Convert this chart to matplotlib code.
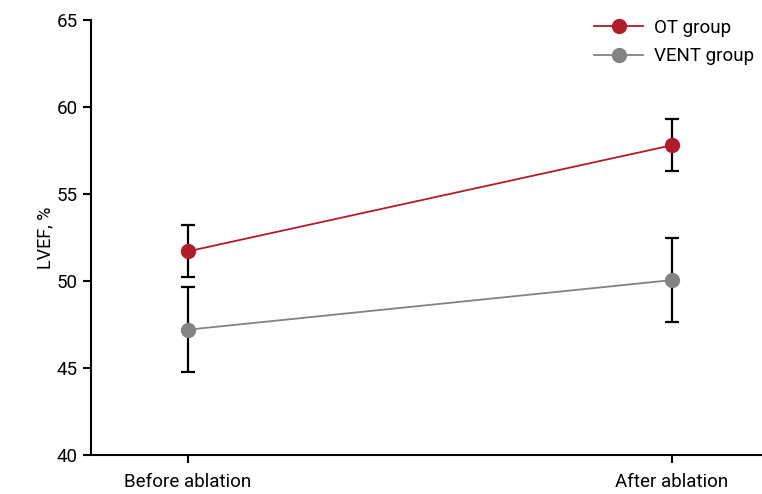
import matplotlib.pyplot as plt

stages = ["Before ablation", "After ablation"]
ot_mean = [51.7, 57.8]
ot_sd = [1.5, 1.5]
vent_mean = [47.2, 50.05]
vent_sd = [2.45, 2.4]

plt.rcParams['font.family'] = ['Roboto', 'DejaVu Sans']


def main():
    fig = plt.figure(figsize=(7.62, 4.94), dpi=100)
    ax = fig.add_axes([0.1194, 0.079, 0.8806, 0.8806])

    x = list(range(len(stages)))

    # error bars in black, drawn under the markers
    ax.errorbar(x, ot_mean, yerr=ot_sd, fmt='none', ecolor='black',
                elinewidth=1.6, capsize=5, capthick=1.6, zorder=2)
    ax.errorbar(x, vent_mean, yerr=vent_sd, fmt='none', ecolor='black',
                elinewidth=1.6, capsize=5, capthick=1.6, zorder=2)

    ax.plot(x, ot_mean, color='#b01c2a', lw=1.3, marker='o', ms=10,
            label='OT group', zorder=3)
    ax.plot(x, vent_mean, color='#838383', lw=1.3, marker='o', ms=10,
            label='VENT group', zorder=3)

    ax.set_xlim(-0.2, 1.186)
    ax.set_ylim(40, 65)
    ax.set_yticks([40, 45, 50, 55, 60, 65])
    ax.set_xticks(x)
    ax.set_xticklabels(stages)
    ax.set_ylabel('LVEF, %', fontsize=13, labelpad=2)

    ax.spines['top'].set_visible(False)
    ax.spines['right'].set_visible(False)
    ax.spines['left'].set_linewidth(1.5)
    ax.spines['bottom'].set_linewidth(1.5)
    ax.tick_params(axis='both', labelsize=13.5, width=1.5, length=6,
                   colors='black')
    ax.tick_params(axis='x', pad=7)

    ax.legend(loc='upper right', frameon=False, fontsize=13.5,
              handlelength=2.6, handletextpad=0.6, borderaxespad=0.0,
              bbox_to_anchor=(1.0, 1.02), labelspacing=0.55)

    plt.savefig('out.png', dpi=100)


if __name__ == '__main__':
    main()
